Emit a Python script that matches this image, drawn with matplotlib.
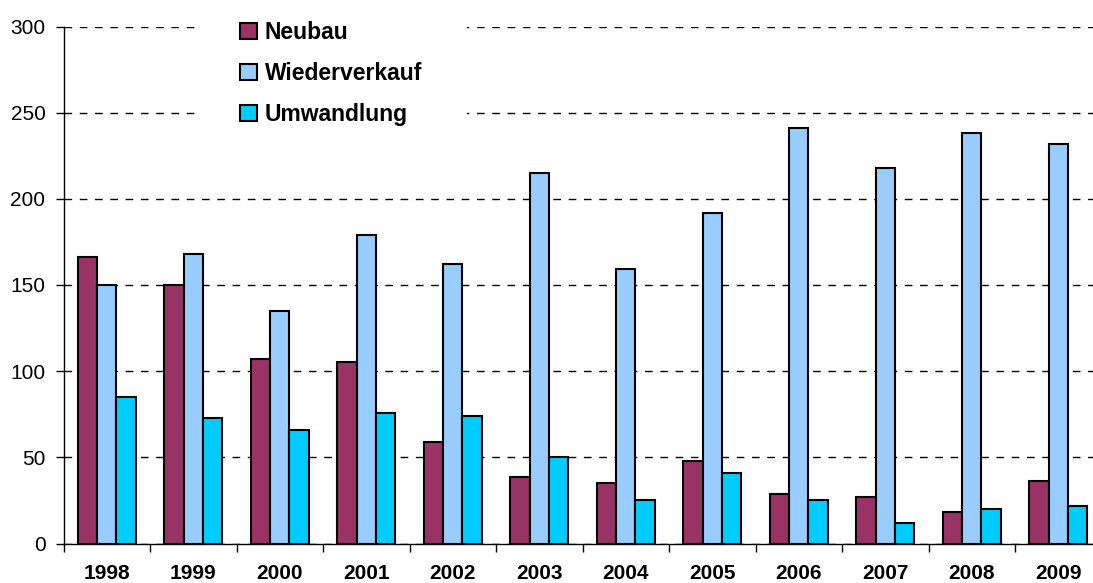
import matplotlib
matplotlib.use("Agg")
import matplotlib.pyplot as plt
import numpy as np
from matplotlib.patches import Rectangle

years = ["1998", "1999", "2000", "2001", "2002", "2003", "2004", "2005", "2006", "2007", "2008", "2009"]
neubau = [166, 150, 107, 105.5, 59, 38.5, 35, 48, 29, 27, 18.5, 36]
wiederverkauf = [150, 168, 135, 179, 162, 215, 159, 192, 241, 218, 238, 232]
umwandlung = [85, 73, 66, 75.5, 74, 50, 25.5, 41, 25.5, 12, 20, 22]
series_names = ["Neubau", "Wiederverkauf", "Umwandlung"]
colors = ["#993366", "#99CCFF", "#00CCFF"]

plt.rcParams['font.family'] = ['Liberation Sans', 'DejaVu Sans']

W, H = 1093, 583
fig = plt.figure(figsize=(W / 100, H / 100), dpi=100)
left, right, bottom, top = 63.5, 1101.5, 543.5, 26.5
ax = fig.add_axes([left / W, 1 - bottom / H, (right - left) / W, (bottom - top) / H])

x = np.arange(len(years))
bw = 0.224
for i, (vals, name, c) in enumerate(zip([neubau, wiederverkauf, umwandlung], series_names, colors)):
    ax.bar(x + (i - 1) * bw, vals, width=bw, color=c, edgecolor="black", linewidth=1.5,
           label=name, zorder=2)

ax.set_xlim(-0.5, len(years) - 0.5)
ax.set_ylim(0, 300)
ax.set_yticks(np.arange(0, 301, 50))
ax.set_xticks(x)
ax.set_xticklabels(years, fontsize=15, fontweight="bold")
ax.set_xticks(np.arange(-0.5, len(years), 1), minor=True)
ax.tick_params(axis="x", which="major", length=0, pad=15)
ax.tick_params(axis="x", which="minor", length=6, width=1, direction="out")
ax.tick_params(axis="y", length=6, width=1, direction="out", labelsize=15, pad=7)

ax.set_axisbelow(True)
ax.yaxis.grid(True, linestyle=(0, (5.5, 5.5)), color="black", linewidth=1)
for s in ["top", "right"]:
    ax.spines[s].set_visible(False)
ax.spines["left"].set_linewidth(1)
ax.spines["bottom"].set_linewidth(1)

# white area behind legend
rx0 = (195 - left) / (right - left)
rx1 = (467 - left) / (right - left)
ry0 = (bottom - 140) / (bottom - top)
ax.add_patch(Rectangle((rx0, ry0), rx1 - rx0, 1.05 - ry0, transform=ax.transAxes,
                       facecolor="white", edgecolor="none", zorder=1, clip_on=False))

leg = fig.legend(loc="upper left", bbox_to_anchor=(240 / W, 1 - 21 / H), frameon=False,
                 prop={"size": 16.5, "weight": "bold"}, handlelength=0.73, handleheight=0.73,
                 handletextpad=0.34, labelspacing=0.78, borderpad=0, borderaxespad=0)

fig.savefig("out.png", dpi=100)
